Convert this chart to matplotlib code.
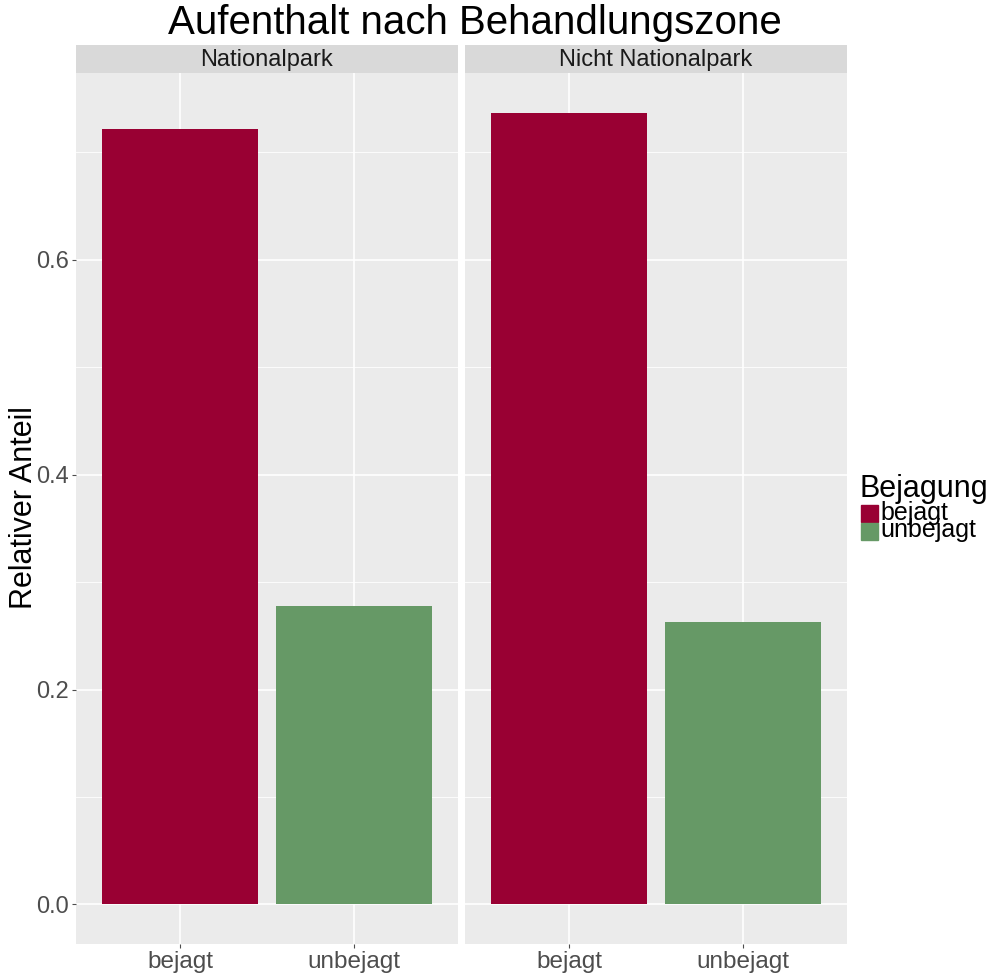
import numpy as np
import matplotlib.pyplot as plt
from matplotlib.patches import Rectangle

plt.rcParams['font.family'] = ['Liberation Sans', 'DejaVu Sans']

zones = ['Nationalpark', 'Nicht Nationalpark']
categories = ['bejagt', 'unbejagt']
anteil = {'Nationalpark': [0.722, 0.278],
          'Nicht Nationalpark': [0.737, 0.263]}
colors = ['#990033', '#669966']
yticks = [0.0, 0.2, 0.4, 0.6]
yminor = [0.1, 0.3, 0.5, 0.7]

W, H = 990, 975
fig = plt.figure(figsize=(W / 100, H / 100), dpi=100)

panels = [(76, 458), (465, 847)]
ptop, pbot = 73, 944
strip_top = 45

ymax_data = max(max(v) for v in anteil.values())
ylim = (-0.05 * ymax_data, ymax_data * 1.05)

for i, (zone, (x0, x1)) in enumerate(zip(zones, panels)):
    ax = fig.add_axes([x0 / W, 1 - pbot / H, (x1 - x0) / W, (pbot - ptop) / H])
    ax.set_facecolor('#EBEBEB')
    for s in ax.spines.values():
        s.set_visible(False)
    xs = np.arange(1, len(categories) + 1)
    ax.set_xlim(0.4, len(categories) + 0.6)
    ax.set_ylim(*ylim)
    for y in yminor:
        ax.axhline(y, color='white', lw=0.6, zorder=0)
    for y in yticks:
        ax.axhline(y, color='white', lw=1.2, zorder=0)
    for x in xs:
        ax.axvline(x, color='white', lw=1.2, zorder=0)
    ax.bar(xs, anteil[zone], width=0.9, color=colors, zorder=2)
    ax.set_xticks(xs)
    ax.set_xticklabels(categories, fontsize=17.5, color='#4D4D4D')
    ax.tick_params(axis='both', length=3, color='#4D4D4D', width=0.8, pad=2)
    if i == 0:
        ax.set_yticks(yticks)
        ax.set_yticklabels([f'{v:.1f}' for v in yticks], fontsize=17, color='#4D4D4D')
    else:
        ax.set_yticks(yticks)
        ax.tick_params(axis='y', left=False, labelleft=False)
    # facet strip
    sax = fig.add_axes([x0 / W, 1 - ptop / H, (x1 - x0) / W, (ptop - strip_top) / H])
    sax.set_facecolor('#D9D9D9')
    sax.set_xticks([])
    sax.set_yticks([])
    for s in sax.spines.values():
        s.set_visible(False)
    sax.text(0.5, 0.45, zone, ha='center', va='center', fontsize=17,
             color='#1A1A1A', transform=sax.transAxes)

fig.text(24 / W, 1 - 508 / H, 'Relativer Anteil', rotation=90, ha='center',
         va='center', fontsize=22)
fig.text(475 / W, 1 - 23 / H, 'Aufenthalt nach Behandlungszone', ha='center',
         va='center', fontsize=29)

# legend
fig.text(859 / W, 1 - 497 / H, 'Bejagung', ha='left', va='baseline', fontsize=22)
for k, (lab, c) in enumerate(zip(categories, colors)):
    ytop = 505 + k * 17.5
    fig.patches.append(Rectangle((861 / W, 1 - (ytop + 17) / H), 17 / W, 17 / H,
                                 color=c, transform=fig.transFigure))
    fig.text(880 / W, 1 - (ytop + 15) / H, lab, ha='left', va='baseline', fontsize=18)

fig.savefig('out.png', dpi=100)
